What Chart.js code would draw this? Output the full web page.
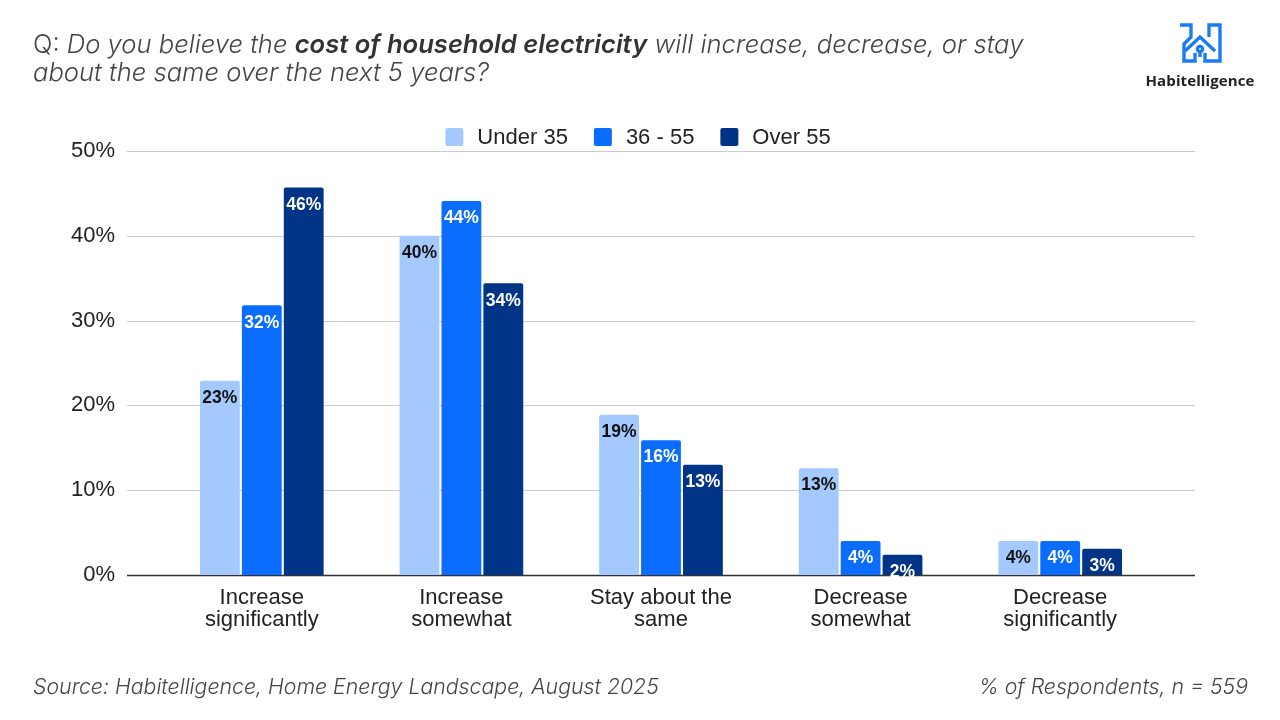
<!DOCTYPE html>
<html>
<head>
<meta charset="utf-8">
<script src="https://cdn.jsdelivr.net/npm/chart.js@4.4.1/dist/chart.umd.min.js"></script>
<style>
  html, body { margin:0; padding:0; background:#fff; width:1280px; height:720px; overflow:hidden; }
  #wrap { position:relative; width:1280px; height:720px; }
  #chart { position:absolute; left:0; top:0; }
  .title { position:absolute; left:33px; top:30px; font-family:Inter, Roboto, sans-serif; font-weight:300; font-size:25.6px; line-height:28px; color:#444; font-style:italic; white-space:nowrap; }
  .title .q { font-style:normal; }
  .title b { font-weight:600; color:#333; }
  .foot { position:absolute; top:674px; font-family:Inter, Roboto, sans-serif; font-weight:300; font-size:21.3px; line-height:24px; font-style:italic; color:#444; white-space:nowrap; }
  .logo { position:absolute; left:1140px; top:23px; width:120px; text-align:center; }
  .logo svg { display:block; margin:0 auto; }
  .logo .name { font-family:"Open Sans", "Noto Sans", sans-serif; font-weight:700; font-size:15px; color:#222; margin-top:7px; letter-spacing:0.1px; }
</style>
</head>
<body>
<div id="wrap">
  <canvas id="chart" width="1280" height="720"></canvas>
  <div class="title"><span class="q">Q:</span> Do you believe the <b>cost of household electricity</b> will increase, decrease, or stay<br>about the same over the next 5 years?</div>
  <div class="logo">
    <svg width="44" height="40" viewBox="0 0 44 40">
      <g fill="none" stroke="#1a7cf5" stroke-width="3.4" stroke-linejoin="miter" stroke-linecap="butt">
        <path d="M2 2 H13 V14 L6 21 V38 H17 V30"/>
        <path d="M7 28 L22 14 L37 28"/>
        <path d="M31 14 V2 H42 V38 H27 V30"/>
        <circle cx="22" cy="26" r="2.6"/>
        <path d="M22 29 V34"/>
      </g>
    </svg>
    <div class="name">Habitelligence</div>
  </div>
  <div class="foot" style="left:33px;">Source: Habitelligence, Home Energy Landscape, August 2025</div>
  <div class="foot" style="right:32px;">% of Respondents, n = 559</div>
</div>
<script>
const categories = [["Increase","significantly"],["Increase","somewhat"],["Stay about the","same"],["Decrease","somewhat"],["Decrease","significantly"]];
const seriesNames = ["Under 35", "36 - 55", "Over 55"];
const under35 = [22.9, 40.0, 18.9, 12.6, 4.0];
const age36to55 = [31.8, 44.1, 15.9, 4.0, 4.0];
const over55 = [45.7, 34.4, 13.0, 2.4, 3.1];
const valueLabels = [
  ["23%","40%","19%","13%","4%"],
  ["32%","44%","16%","4%","4%"],
  ["46%","34%","13%","2%","3%"]
];
const yTicks = [0, 10, 20, 30, 40, 50];

const colors = ["#a3c9ff", "#0b6dfe", "#003486"];
const labelColors = ["#111111", "#ffffff", "#ffffff"];

const FONT = "'Liberation Sans', Arial, sans-serif";

const gridPlugin = {
  id: 'wideGrid',
  beforeDatasetsDraw(chart) {
    const ctx = chart.ctx, y = chart.scales.y;
    ctx.save();
    yTicks.forEach(v => {
      const py = Math.round(y.getPixelForValue(v)) + 0.5;
      ctx.beginPath();
      ctx.strokeStyle = v === 0 ? '#333333' : '#cccccc';
      ctx.lineWidth = v === 0 ? 1.5 : 1.2;
      ctx.moveTo(127, py);
      ctx.lineTo(1195, py);
      ctx.stroke();
    });
    ctx.restore();
  }
};

const legendPlugin = {
  id: 'customLegend',
  afterDraw(chart) {
    const ctx = chart.ctx;
    const box = 18, gapText = 14, gapItem = 26, cy = 137;
    ctx.save();
    ctx.font = "22px " + FONT;
    ctx.textBaseline = 'middle';
    ctx.textAlign = 'left';
    const items = chart.data.datasets.map(ds => ({ text: ds.label, color: ds.backgroundColor, w: ctx.measureText(ds.label).width }));
    let total = 0;
    items.forEach((it, i) => { total += box + gapText + it.w + (i < items.length - 1 ? gapItem : 0); });
    let x = 638 - total / 2;
    items.forEach(it => {
      ctx.fillStyle = it.color;
      ctx.beginPath();
      ctx.roundRect(x, cy - box / 2, box, box, 2);
      ctx.fill();
      ctx.fillStyle = '#222';
      ctx.fillText(it.text, x + box + gapText, cy + 1);
      x += box + gapText + it.w + gapItem;
    });
    ctx.restore();
  }
};

const labelPlugin = {
  id: 'barLabels',
  afterDatasetsDraw(chart) {
    const ctx = chart.ctx;
    ctx.save();
    ctx.font = "bold 17.5px " + FONT;
    ctx.textAlign = 'center';
    ctx.textBaseline = 'middle';
    chart.data.datasets.forEach((ds, di) => {
      const meta = chart.getDatasetMeta(di);
      meta.data.forEach((bar, i) => {
        ctx.fillStyle = labelColors[di];
        ctx.fillText(valueLabels[di][i], bar.x, bar.y + 17.5);
      });
    });
    ctx.restore();
  }
};

new Chart(document.getElementById('chart'), {
  type: 'bar',
  data: {
    labels: categories,
    datasets: [
      { label: seriesNames[0], data: under35, backgroundColor: colors[0] },
      { label: seriesNames[1], data: age36to55, backgroundColor: colors[1] },
      { label: seriesNames[2], data: over55, backgroundColor: colors[2] }
    ]
  },
  options: {
    responsive: false,
    animation: false,
    devicePixelRatio: 1,
    layout: { padding: { left: 0, right: 120, top: 151, bottom: 0 } },
    datasets: {
      bar: { categoryPercentage: 0.63, barPercentage: 0.95, borderRadius: 2, borderSkipped: 'bottom' }
    },
    plugins: {
      legend: { display: false },
      tooltip: { enabled: false }
    },
    scales: {
      x: {
        grid: { display: false, drawTicks: false },
        border: { display: false },
        ticks: { font: { family: FONT, size: 22, lineHeight: 1.0 }, color: '#222', padding: 12, maxRotation: 0, autoSkip: false },
        afterFit(scale) { scale.height = 145; }
      },
      y: {
        min: 0, max: 50,
        grid: { display: false, drawTicks: false },
        border: { display: false },
        afterBuildTicks(scale) { scale.ticks = yTicks.map(v => ({ value: v })); },
        ticks: { font: { family: FONT, size: 22 }, color: '#222', padding: 47, callback: v => v + '%' },
        afterFit(scale) { scale.width = 162; }
      }
    }
  },
  plugins: [gridPlugin, labelPlugin, legendPlugin]
});
</script>
</body>
</html>
